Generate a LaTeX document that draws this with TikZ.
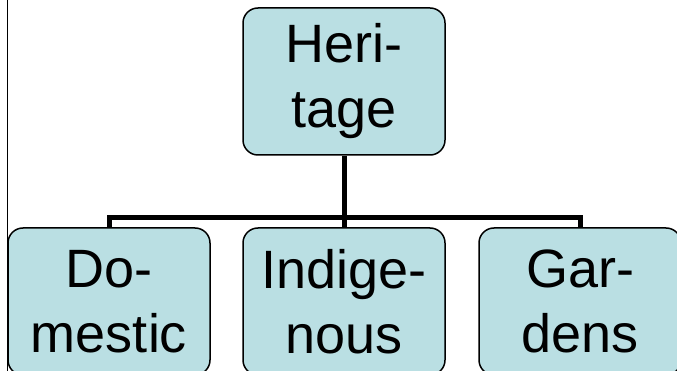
\documentclass[tikz,border=0pt]{standalone}
\usepackage{fontspec}
\setmainfont{Liberation Sans}
\definecolor{boxfill}{RGB}{186,223,227}
\begin{document}
\begin{tikzpicture}[x=1pt,y=-1pt,
				every node/.style={ rectangle, rounded corners=15pt,
						draw=black, line width=1.5pt, fill=boxfill,
						text=black, align=center, inner sep=0pt,
						minimum width=202pt, minimum height=147pt,
						font=\fontsize{54}{65}\selectfont },
				link/.style={ line width=5pt } ]

			\useasboundingbox (0,0) rectangle (677,371);

			\node (heritage) at (344,81.5) {Heri-\\tage};
			\node (domestic) at (109,301.5) {Do-\\mestic};
			\node (indigenous) at (344,301.5) {Indige-\\nous};
			\node (gardens) at (580,301.5) {Gar-\\dens};

			\coordinate (bar) at (344,218);
			\coordinate (rule1) at (7,0);
			\coordinate (rule2) at (7,371);

			\draw[link] (heritage.south) -- (bar);
			\draw[link] (domestic.north) |- (bar) -| (gardens.north);
			\draw[link] (indigenous.north) -- (bar);

			\draw[line width=1pt] (rule1) -- (rule2);
		\end{tikzpicture}
\end{document}
